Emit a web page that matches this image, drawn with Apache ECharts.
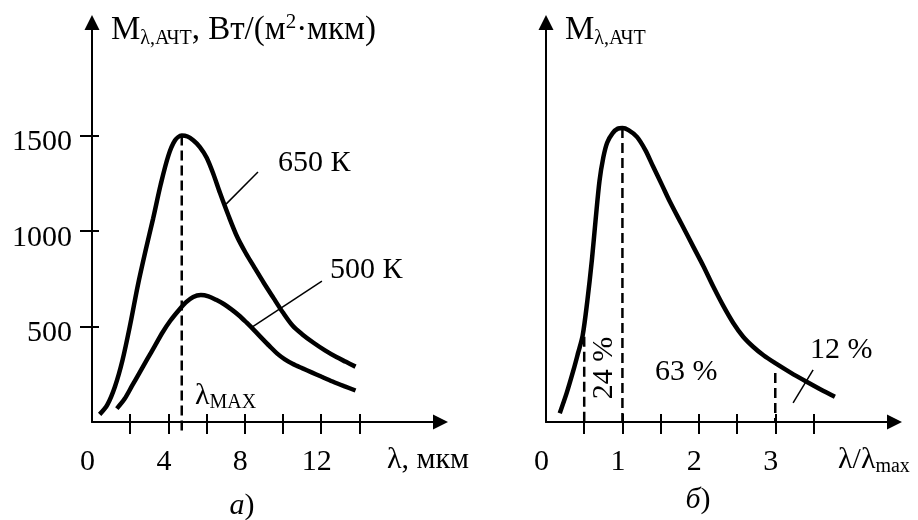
<!DOCTYPE html>
<html><head><meta charset="utf-8">
<script src="https://cdn.jsdelivr.net/npm/echarts@6/dist/echarts.min.js"></script>
<style>html,body{margin:0;padding:0;background:#fff}#c{width:918px;height:520px}</style>
</head><body><div id="c"></div>
<script>
// ---- panel a) : spectral exitance vs wavelength ----
const curve650K = [[0.4,40],[0.8,90],[1.2,185],[1.6,325],[2.0,510],[2.4,715],[2.8,895],[3.2,1065],[3.6,1245],[4.0,1395],[4.35,1475],[4.7,1500],[5.0,1495],[5.3,1475],[5.65,1440],[6.0,1385],[6.35,1300],[6.7,1200],[7.15,1080],[7.6,970],[8.05,885],[8.5,810],[9.0,728],[9.5,650],[10.0,573],[10.5,505],[11.0,460],[11.6,415],[12.2,375],[12.8,340],[13.3,315],[13.8,290]];
const curve500K = [[1.3,70],[1.7,120],[2.1,190],[2.5,260],[2.9,330],[3.3,400],[3.7,470],[4.1,530],[4.5,580],[4.9,625],[5.3,655],[5.7,665],[6.1,658],[6.5,640],[6.9,618],[7.3,590],[7.7,558],[8.1,520],[8.5,480],[8.9,438],[9.3,397],[9.7,358],[10.1,328],[10.5,305],[11.0,282],[11.5,260],[12.0,238],[12.6,212],[13.2,188],[13.8,165]];
const lambdaMaxLine = [[4.7,1500],[4.7,-65]];
const leader650 = [[8.69,1309],[7.02,1141]];
const leader500 = [[12.04,738],[8.38,497]];
const leftXTicks = [2,4,6,8,10,12,14];
const leftXLabels = [0,4,8,12];
const leftYTicks = [500,1000,1500];

// ---- panel б) : normalized curve vs lambda/lambda_max ----
const relCurve = [[0.18,0.03],[0.27,0.098],[0.36,0.177],[0.42,0.235],[0.48,0.295],[0.54,0.41],[0.6,0.55],[0.65,0.69],[0.7,0.82],[0.75,0.9],[0.8,0.95],[0.87,0.982],[0.94,0.998],[1.0,1.0],[1.08,0.993],[1.19,0.97],[1.3,0.925],[1.4,0.87],[1.52,0.805],[1.62,0.75],[1.77,0.675],[1.93,0.595],[2.06,0.53],[2.19,0.46],[2.32,0.395],[2.45,0.337],[2.58,0.29],[2.71,0.256],[2.85,0.226],[3.0,0.2],[3.2,0.168],[3.41,0.137],[3.6,0.11],[3.78,0.086]];
const relDash05 = [[0.5,0.29],[0.5,0]];
const relDash1 = [[1,1.0],[1,0]];
const relDash3 = [[3,0.167],[3,0]];
const mark12 = [[3.233,0.065],[3.495,0.177]];
const relXTicks = [0.5,1,1.5,2,2.5,3,3.5];
const relXLabels = [0,1,2,3];

const FONT = 'Liberation Serif';
const chart = echarts.init(document.getElementById('c'), null, {renderer:'canvas'});

function xMain(grid, max, ticks, labels){
  return {type:'value', gridIndex:grid, min:0, max:max,
    axisLine:{show:true, onZero:false, symbol:['none','triangle'], symbolSize:[15,15], lineStyle:{color:'#000', width:2}},
    axisTick:{show:true, inside:false, length:12, customValues:ticks, lineStyle:{color:'#000', width:2}},
    axisLabel:{show:true, customValues:labels, margin:25, fontFamily:FONT, fontSize:30, color:'#000', padding:[0,9,0,0],
      formatter: v => String(v)},
    splitLine:{show:false}};
}
function xInner(grid, max, ticks){
  return {type:'value', gridIndex:grid, min:0, max:max, position:'bottom', offset:0,
    axisLine:{show:false, onZero:false},
    axisTick:{show:true, inside:true, length:8, customValues:ticks, lineStyle:{color:'#000', width:2}},
    axisLabel:{show:false}, splitLine:{show:false}};
}
const sub = (extra) => Object.assign({fontFamily:FONT, fontSize:20, lineHeight:21, verticalAlign:'bottom', fill:'#000'}, extra||{});

const option = {
  animation:false,
  backgroundColor:'#fff',
  grid:[
    {left:92, top:22.5, width:348.5, height:399.5},
    {left:546, top:22.5, width:348.5, height:399.5}
  ],
  xAxis:[
    xMain(0, 18.25, leftXTicks, leftXLabels),
    xInner(0, 18.25, leftXTicks),
    xMain(1, 4.56, relXTicks, relXLabels),
    xInner(1, 4.56, relXTicks)
  ],
  yAxis:[
    {type:'value', gridIndex:0, min:0, max:2092,
      axisLine:{show:true, onZero:false, symbol:['none','triangle'], symbolSize:[15,15], lineStyle:{color:'#000', width:2}},
      axisTick:{show:true, inside:false, length:12, customValues:leftYTicks, lineStyle:{color:'#000', width:2}},
      axisLabel:{show:true, customValues:leftYTicks, margin:20, color:'#000',
        formatter: v => '{v|' + v + '}',
        rich:{v:{fontFamily:FONT, fontSize:30, lineHeight:30, padding:[14,0,0,0], color:'#000'}}},
      splitLine:{show:false}},
    {type:'value', gridIndex:0, min:0, max:2092, position:'left', offset:0,
      axisLine:{show:false, onZero:false},
      axisTick:{show:true, inside:true, length:7, customValues:leftYTicks, lineStyle:{color:'#000', width:2}},
      axisLabel:{show:false}, splitLine:{show:false}},
    {type:'value', gridIndex:1, min:0, max:1.359,
      axisLine:{show:true, onZero:false, symbol:['none','triangle'], symbolSize:[15,15], lineStyle:{color:'#000', width:2}},
      axisTick:{show:false}, axisLabel:{show:false}, splitLine:{show:false}}
  ],
  series:[
    {type:'line', xAxisIndex:0, yAxisIndex:0, data:curve650K, smooth:0.3, symbol:'none', lineStyle:{color:'#000', width:4.5}},
    {type:'line', xAxisIndex:0, yAxisIndex:0, data:curve500K, smooth:0.3, symbol:'none', lineStyle:{color:'#000', width:4.5}},
    {type:'line', xAxisIndex:0, yAxisIndex:0, data:lambdaMaxLine, clip:false, symbol:'none', lineStyle:{color:'#000', width:2.5, type:[10,5]}},
    {type:'line', xAxisIndex:0, yAxisIndex:0, data:leader650, symbol:'none', lineStyle:{color:'#000', width:1.5}},
    {type:'line', xAxisIndex:0, yAxisIndex:0, data:leader500, symbol:'none', lineStyle:{color:'#000', width:1.5}},
    {type:'line', xAxisIndex:2, yAxisIndex:2, data:relCurve, smooth:0.3, symbol:'none', lineStyle:{color:'#000', width:4.5}},
    {type:'line', xAxisIndex:2, yAxisIndex:2, data:relDash05, symbol:'none', lineStyle:{color:'#000', width:2.5, type:[10,5]}},
    {type:'line', xAxisIndex:2, yAxisIndex:2, data:relDash1, symbol:'none', lineStyle:{color:'#000', width:2.5, type:[10,5]}},
    {type:'line', xAxisIndex:2, yAxisIndex:2, data:relDash3, symbol:'none', lineStyle:{color:'#000', width:2.5, type:[10,5]}},
    {type:'line', xAxisIndex:2, yAxisIndex:2, data:mark12, symbol:'none', lineStyle:{color:'#000', width:1.5}}
  ],
  graphic:[
    {type:'text', x:111, y:30, style:{text:'{m|M}{s|λ,АЧТ}{m|, Вт/(м}{p|2}{m|·мкм)}', verticalAlign:'middle', fill:'#000',
      rich:{m:{fontFamily:FONT, fontSize:33, lineHeight:37, fill:'#000'},
            s:sub(),
            p:{fontFamily:FONT, fontSize:21, lineHeight:23, verticalAlign:'top', fill:'#000'}}}},
    {type:'text', x:565, y:30, style:{text:'{m|M}{s|λ,АЧТ}', verticalAlign:'middle', fill:'#000',
      rich:{m:{fontFamily:FONT, fontSize:33, lineHeight:37, fill:'#000'}, s:sub()}}},
    {type:'text', x:278, y:163, style:{text:'650 К', font:'30px "Liberation Serif"', verticalAlign:'middle', fill:'#000'}},
    {type:'text', x:330, y:270, style:{text:'500 К', font:'30px "Liberation Serif"', verticalAlign:'middle', fill:'#000'}},
    {type:'text', x:195, y:396, style:{text:'{m|λ}{s|MAX}', verticalAlign:'middle', fill:'#000',
      rich:{m:{fontFamily:FONT, fontSize:30, lineHeight:34, fill:'#000'}, s:sub({fontSize:20})}}},
    {type:'text', x:387, y:460, style:{text:'λ, мкм', font:'30px "Liberation Serif"', verticalAlign:'middle', fill:'#000'}},
    {type:'text', x:838, y:460, style:{text:'{m|λ/λ}{s|max}', verticalAlign:'middle', fill:'#000',
      rich:{m:{fontFamily:FONT, fontSize:30, lineHeight:34, fill:'#000'}, s:sub({fontSize:20})}}},
    {type:'text', x:242, y:506, style:{text:'{i|а}{m|)}', align:'center', verticalAlign:'middle', fill:'#000',
      rich:{i:{fontFamily:FONT, fontSize:30, fontStyle:'italic', fill:'#000'}, m:{fontFamily:FONT, fontSize:30, fill:'#000'}}}},
    {type:'text', x:698, y:500, style:{text:'{i|б}{m|)}', align:'center', verticalAlign:'middle', fill:'#000',
      rich:{i:{fontFamily:FONT, fontSize:30, fontStyle:'italic', fill:'#000'}, m:{fontFamily:FONT, fontSize:30, fill:'#000'}}}},
    {type:'text', x:604, y:368, rotation:Math.PI/2, style:{text:'24 %', font:'30px "Liberation Serif"', align:'center', verticalAlign:'middle', fill:'#000'}},
    {type:'text', x:655, y:372, style:{text:'63 %', font:'30px "Liberation Serif"', verticalAlign:'middle', fill:'#000'}},
    {type:'text', x:810, y:350, style:{text:'12 %', font:'30px "Liberation Serif"', verticalAlign:'middle', fill:'#000'}}
  ]
};
chart.setOption(option);
</script>
</body></html>
